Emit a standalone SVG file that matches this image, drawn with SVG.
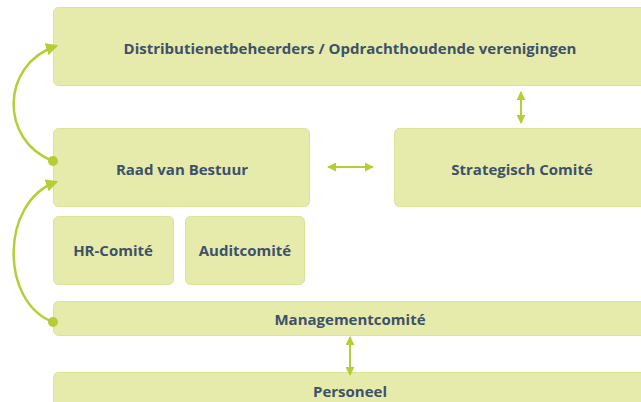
<svg xmlns="http://www.w3.org/2000/svg" width="641" height="402" viewBox="0 0 641 402">
<style>
.box{fill:#e6ebab;stroke:#dbe398;stroke-width:1}
.t{font-family:"Open Sans","Liberation Sans",sans-serif;font-weight:bold;font-size:15px;fill:#3d5169;text-anchor:middle;dominant-baseline:central}
.c{fill:none;stroke:#b8cc35;stroke-width:2.5}
.s{fill:none;stroke:#b8cc35;stroke-width:2}
</style>
<defs>
<marker id="ah" viewBox="0 0 10 10" refX="8" refY="5" markerWidth="5" markerHeight="5" orient="auto-start-reverse" markerUnits="strokeWidth">
<path d="M0,0 L10,5 L0,10 z" fill="#b8cc35"/>
</marker>
<marker id="sh" viewBox="0 0 10 10" refX="9" refY="5" markerWidth="4.5" markerHeight="4.5" orient="auto-start-reverse" markerUnits="strokeWidth">
<path d="M0,0 L10,5 L0,10 z" fill="#b8cc35"/>
</marker>
</defs>
<rect width="641" height="402" fill="#ffffff"/>
<g id="dnb"><rect class="box" x="53.5" y="7.5" width="600" height="78" rx="5"/><text class="t" x="350" y="48">Distributienetbeheerders / Opdrachthoudende verenigingen</text></g>
<g id="rvb"><rect class="box" x="53.5" y="128.5" width="256" height="78" rx="5"/><text class="t" x="182" y="169">Raad van Bestuur</text></g>
<g id="sc"><rect class="box" x="394.5" y="128.5" width="260" height="78" rx="5"/><text class="t" x="522" y="169">Strategisch Comité</text></g>
<g id="hr"><rect class="box" x="53.5" y="216.5" width="120" height="68" rx="5"/><text class="t" x="113" y="250">HR-Comité</text></g>
<g id="audit"><rect class="box" x="185.5" y="216.5" width="119" height="68" rx="5"/><text class="t" x="245" y="250">Auditcomité</text></g>
<g id="mc"><rect class="box" x="53.5" y="301.5" width="600" height="34" rx="5"/><text class="t" x="350" y="319">Managementcomité</text></g>
<g id="pers"><rect class="box" x="53.5" y="372.5" width="600" height="40" rx="5"/><text class="t" x="350" y="391">Personeel</text></g>
<g id="connectors">
<path class="c" d="M53,161 C0,141 0,65 56,46" marker-end="url(#ah)"/>
<circle cx="53" cy="161" r="5" fill="#b8cc35"/>
<path class="c" d="M53,322 C0,302 0,202 56,182" marker-end="url(#ah)"/>
<circle cx="53" cy="322" r="5" fill="#b8cc35"/>
<path class="s" d="M521,92 L521,123" marker-start="url(#sh)" marker-end="url(#sh)"/>
<path class="s" d="M328,167 L373,167" marker-start="url(#sh)" marker-end="url(#sh)"/>
<path class="s" d="M350,337 L350,375" marker-start="url(#sh)" marker-end="url(#sh)"/>
</g>
</svg>
